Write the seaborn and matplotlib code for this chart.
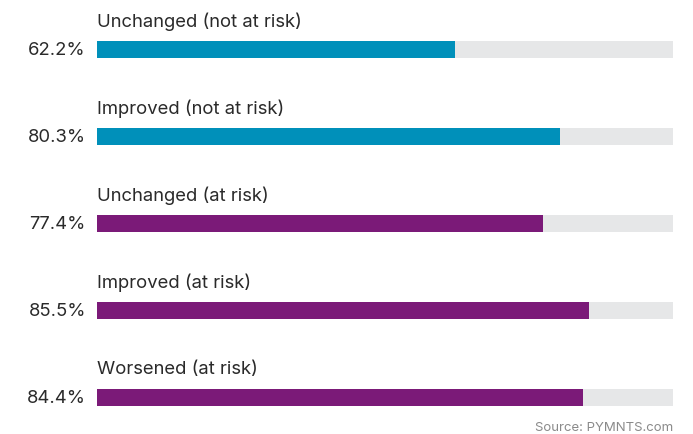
import matplotlib
matplotlib.use('Agg')
from matplotlib import pyplot as plt
import pandas as pd
import seaborn as sns

labels = ['Unchanged (not at risk)', 'Improved (not at risk)', 'Unchanged (at risk)',
          'Improved (at risk)', 'Worsened (at risk)']
values = [62.2, 80.3, 77.4, 85.5, 84.4]
colors = ['#0090BA', '#0090BA', '#7B1A78', '#7B1A78', '#7B1A78']

df = pd.DataFrame({'label': labels, 'value': values, 'full': [100] * len(values)})

sns.set_style('white')
plt.rcParams['font.family'] = ['Inter', 'DejaVu Sans']

fig = plt.figure(figsize=(6.93, 4.35), dpi=100)
ax = fig.add_axes([97 / 693, 0, 576 / 693, 1])

sns.barplot(data=df, y='label', x='full', color='#E6E7E8', width=0.195, ax=ax,
            orient='h', saturation=1, linewidth=0)
sns.barplot(data=df, y='label', x='value', hue='label', palette=colors, legend=False,
            width=0.195, ax=ax, orient='h', saturation=1, linewidth=0)

for i, (lab, v) in enumerate(zip(labels, values)):
    ax.text(0, i - 0.33, lab, ha='left', va='center', fontsize=13.3, color='#2a2a2a')
    ax.annotate(f'{v}%', xy=(0, i), xytext=(-8, 0), textcoords='offset points',
                ha='right', va='center', fontsize=13.3, color='#2a2a2a')

ax.text(100, 4.35, 'Source: PYMNTS.com', ha='right', va='center', fontsize=9.5,
        color='#8a8a8a')

ax.set_xlim(0, 100)
ax.set_ylim(4.425, -0.575)
ax.axis('off')

fig.savefig('out.png', dpi=100)
